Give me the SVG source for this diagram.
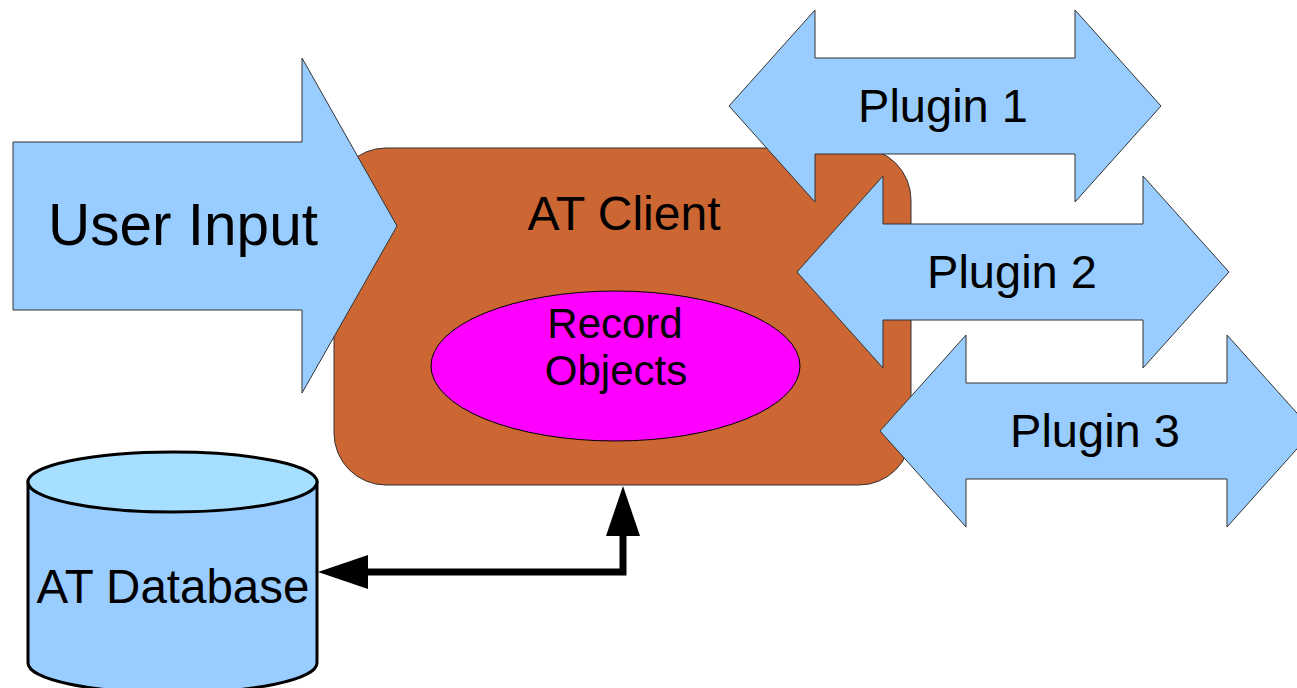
<svg xmlns="http://www.w3.org/2000/svg" width="1297" height="688" viewBox="0 0 1297 688">
<style>
.blue{fill:#99ccff;stroke:#333333;stroke-width:1}
.lbl{font-family:"Liberation Sans",Arial,sans-serif;fill:#000000}
.plug{font-size:47px;text-anchor:middle}
</style>
<defs>
<marker id="ah" markerUnits="userSpaceOnUse" markerWidth="50" markerHeight="34" refX="0" refY="17" orient="auto-start-reverse" viewBox="0 0 50 34">
<path d="M0,0 L50,17 L0,34 Z" fill="#000000"/>
</marker>
</defs>
<rect width="1297" height="688" fill="#ffffff"/>
<g id="at-client">
<rect x="334" y="148" width="577" height="337" rx="52" ry="52" fill="#cc6633" stroke="#333333" stroke-width="1"/>
<text class="lbl" x="624" y="230" font-size="48" text-anchor="middle">AT Client</text>
</g>
<g id="record-objects">
<ellipse cx="615.5" cy="366" rx="184.5" ry="75" fill="#ff00ff" stroke="#000000" stroke-width="1"/>
<text class="lbl" x="615" y="338" font-size="42" text-anchor="middle">Record</text>
<text class="lbl" x="616" y="385" font-size="42" text-anchor="middle">Objects</text>
</g>
<g id="user-input">
<polygon class="blue" points="13,142 302,142 302,58 397,226 302,393 302,310 13,310"/>
<text class="lbl" x="183" y="245" font-size="58.5" text-anchor="middle">User Input</text>
</g>
<g id="plugin-1">
<polygon class="blue" points="729,106 815,10 815,58 1075,58 1075,10 1161,106 1075,202 1075,154 815,154 815,202"/>
<text class="lbl plug" x="943" y="122">Plugin 1</text>
</g>
<g id="plugin-2">
<polygon class="blue" points="797,272 883,176 883,224 1143,224 1143,176 1229,272 1143,368 1143,320 883,320 883,368"/>
<text class="lbl plug" x="1012" y="288">Plugin 2</text>
</g>
<g id="plugin-3">
<polygon class="blue" points="880,431 966,335 966,383 1227,383 1227,335 1313,431 1227,527 1227,479 966,479 966,527"/>
<text class="lbl plug" x="1095" y="447">Plugin 3</text>
</g>
<g id="at-database">
<path d="M28,482 L28,663 A144.5,30 0 0 0 317,663 L317,482 Z" fill="#99ccff" stroke="#000000" stroke-width="3"/>
<ellipse cx="172.5" cy="482" rx="144.5" ry="30" fill="#a6dfff" stroke="#000000" stroke-width="3"/>
<text class="lbl" x="173" y="603" font-size="47.5" text-anchor="middle">AT Database</text>
</g>
<g id="connectors">
<path d="M368,572 H623 V536" fill="none" stroke="#000000" stroke-width="7" marker-start="url(#ah)" marker-end="url(#ah)"/>
</g>
</svg>
